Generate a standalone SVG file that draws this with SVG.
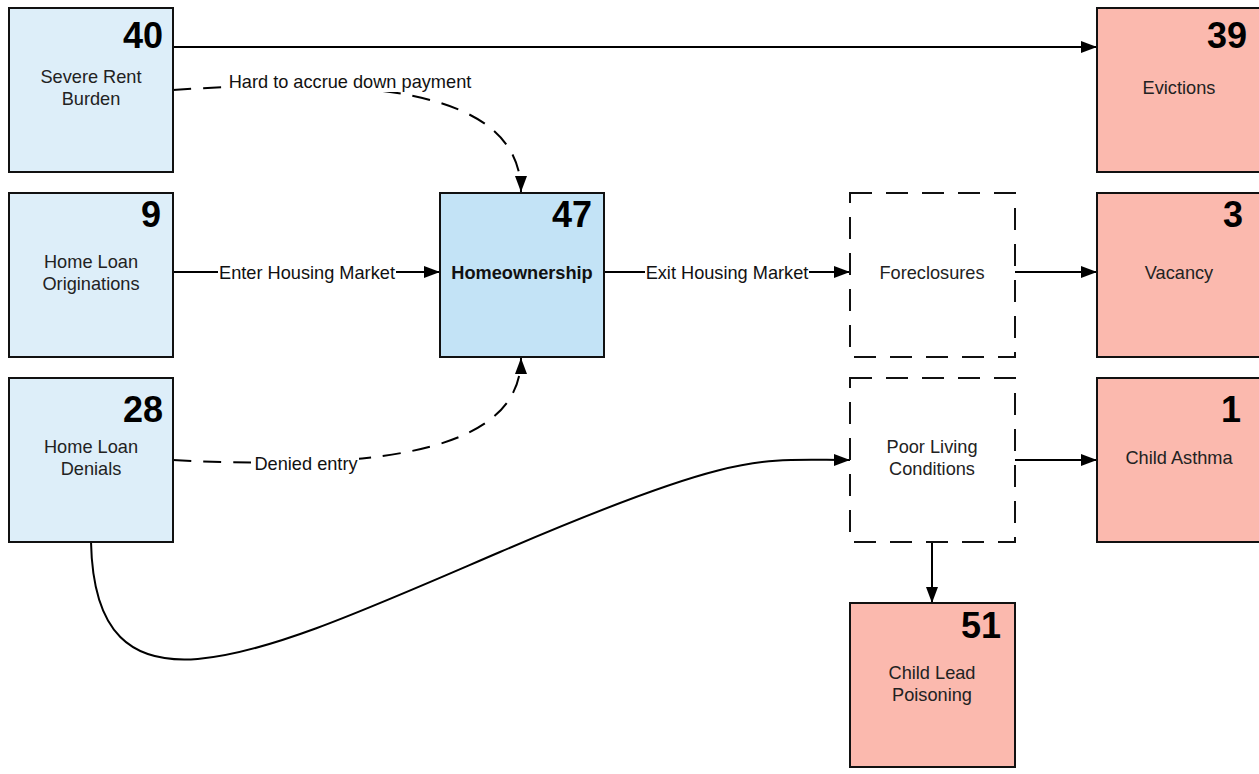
<svg xmlns="http://www.w3.org/2000/svg" width="1259" height="774" viewBox="0 0 1259 774">
<style>
.box{stroke:#111;stroke-width:2}
.lb{fill:#ddeef9}
.mb{fill:#c3e3f6}
.pk{fill:#fbb9ae}
.ds{fill:#fff;stroke-dasharray:22 14}
.num{font-family:"Liberation Sans",Arial,sans-serif;font-weight:bold;font-size:36px;fill:#000;text-anchor:end}
.t{font-family:"Liberation Sans",Arial,sans-serif;font-size:18.2px;fill:#222;text-anchor:middle}
.tb{font-weight:bold;fill:#111}
.el{font-family:"Liberation Sans",Arial,sans-serif;font-size:18.2px;fill:#111;text-anchor:middle}
.c{fill:none;stroke:#000;stroke-width:2}
.d{stroke-dasharray:18 12}
</style>
<defs>
<marker id="ah" viewBox="0 0 16 12" refX="16" refY="6" markerWidth="16" markerHeight="12" markerUnits="userSpaceOnUse" orient="auto">
<path d="M0,0 L16,6 L0,12 Z" fill="#000"/>
</marker>
</defs>
<rect width="1259" height="774" fill="#fff"/>
<g id="connectors">
<path class="c" d="M173,47 L1097,47" marker-end="url(#ah)"/>
<path class="c d" d="M173,90 C350,78 521,84 521,192" marker-end="url(#ah)"/>
<path class="c" d="M173,272 L440,272" marker-end="url(#ah)"/>
<path class="c" d="M604,272 L850,272" marker-end="url(#ah)"/>
<path class="c" d="M1015,272 L1097,272" marker-end="url(#ah)"/>
<path class="c d" d="M173,460 C400,472 521,445 521,358" marker-end="url(#ah)"/>
<path class="c" d="M91,542 C95,735 260,655 500,552 S760,460 850,460" marker-end="url(#ah)"/>
<path class="c" d="M1015,460 L1097,460" marker-end="url(#ah)"/>
<path class="c" d="M932,542 L932,603" marker-end="url(#ah)"/>
<rect x="226" y="70" width="248" height="22" fill="#fff"/>
<text class="el" x="350" y="87.5">Hard to accrue down payment</text>
<rect x="218" y="262" width="178" height="22" fill="#fff"/>
<text class="el" x="307" y="278.5">Enter Housing Market</text>
<rect x="645" y="262" width="164" height="22" fill="#fff"/>
<text class="el" x="727" y="278.5">Exit Housing Market</text>
<rect x="253" y="452" width="106" height="22" fill="#fff"/>
<text class="el" x="306" y="469.5">Denied entry</text>
</g>
<g id="severe-rent">
<rect class="box lb" x="9" y="8" width="164" height="164"/>
<text class="num" x="163" y="48">40</text>
<text class="t" x="91" y="82.5">Severe Rent</text>
<text class="t" x="91" y="104.5">Burden</text>
</g>
<g id="loan-originations">
<rect class="box lb" x="9" y="193" width="164" height="164"/>
<text class="num" x="161" y="227">9</text>
<text class="t" x="91" y="267.5">Home Loan</text>
<text class="t" x="91" y="289.5">Originations</text>
</g>
<g id="loan-denials">
<rect class="box lb" x="9" y="378" width="164" height="164"/>
<text class="num" x="163" y="422">28</text>
<text class="t" x="91" y="452.5">Home Loan</text>
<text class="t" x="91" y="474.5">Denials</text>
</g>
<g id="homeownership">
<rect class="box mb" x="440" y="193" width="164" height="164"/>
<text class="num" x="592" y="227">47</text>
<text class="t tb" x="522" y="278.5">Homeownership</text>
</g>
<g id="foreclosures">
<rect class="box ds" x="850" y="193" width="165" height="164"/>
<text class="t" x="932" y="278.5">Foreclosures</text>
</g>
<g id="poor-living">
<rect class="box ds" x="850" y="378" width="165" height="164"/>
<text class="t" x="932" y="452.5">Poor Living</text>
<text class="t" x="932" y="474.5">Conditions</text>
</g>
<g id="evictions">
<rect class="box pk" x="1097" y="8" width="170" height="164"/>
<text class="num" x="1247" y="48">39</text>
<text class="t" x="1179" y="93.5">Evictions</text>
</g>
<g id="vacancy">
<rect class="box pk" x="1097" y="193" width="170" height="164"/>
<text class="num" x="1243" y="227">3</text>
<text class="t" x="1179" y="278.5">Vacancy</text>
</g>
<g id="child-asthma">
<rect class="box pk" x="1097" y="378" width="170" height="164"/>
<text class="num" x="1241" y="422">1</text>
<text class="t" x="1179" y="463.5">Child Asthma</text>
</g>
<g id="child-lead">
<rect class="box pk" x="850" y="603" width="165" height="164"/>
<text class="num" x="1001" y="638">51</text>
<text class="t" x="932" y="678.5">Child Lead</text>
<text class="t" x="932" y="700.5">Poisoning</text>
</g>
</svg>
